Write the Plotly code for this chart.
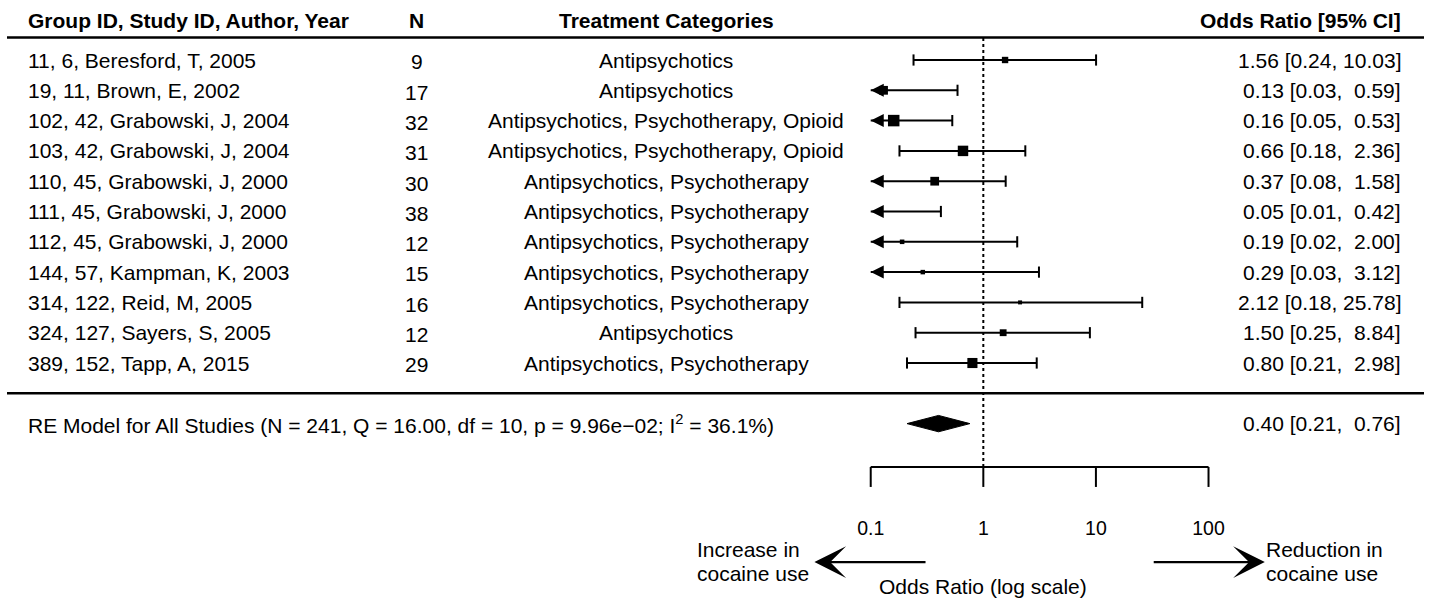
import math
import plotly.graph_objects as go

# ---------------- data ----------------
study = ["11, 6, Beresford, T, 2005", "19, 11, Brown, E, 2002", "102, 42, Grabowski, J, 2004",
         "103, 42, Grabowski, J, 2004", "110, 45, Grabowski, J, 2000", "111, 45, Grabowski, J, 2000",
         "112, 45, Grabowski, J, 2000", "144, 57, Kampman, K, 2003", "314, 122, Reid, M, 2005",
         "324, 127, Sayers, S, 2005", "389, 152, Tapp, A, 2015"]
n_obs = [9, 17, 32, 31, 30, 38, 12, 15, 16, 12, 29]
treatment = ["Antipsychotics", "Antipsychotics", "Antipsychotics, Psychotherapy, Opioid",
             "Antipsychotics, Psychotherapy, Opioid", "Antipsychotics, Psychotherapy",
             "Antipsychotics, Psychotherapy", "Antipsychotics, Psychotherapy",
             "Antipsychotics, Psychotherapy", "Antipsychotics, Psychotherapy",
             "Antipsychotics", "Antipsychotics, Psychotherapy"]
or_est = [1.56, 0.13, 0.16, 0.66, 0.37, 0.05, 0.19, 0.29, 2.12, 1.50, 0.80]
ci_low = [0.24, 0.03, 0.05, 0.18, 0.08, 0.01, 0.02, 0.03, 0.18, 0.25, 0.21]
ci_high = [10.03, 0.59, 0.53, 2.36, 1.58, 0.42, 2.00, 3.12, 25.78, 8.84, 2.98]
re_est, re_low, re_high = 0.40, 0.21, 0.76
re_label = "RE Model for All Studies (N = 241, Q = 16.00, df = 10, p = 9.96e\u221202; I<sup>2</sup> = 36.1%)"
headers = ["Group ID, Study ID, Author, Year", "N", "Treatment Categories", "Odds Ratio [95% CI]"]
tick_vals = [0.1, 1, 10, 100]
tick_text = ["0.1", "1", "10", "100"]
x_title = "Odds Ratio (log scale)"
left_note = ["Increase in", "cocaine use"]
right_note = ["Reduction in", "cocaine use"]
alim_low = 0.1

# ---------------- layout helpers ----------------
W, H = 1430, 603
FONT = "Liberation Sans, Arial, sans-serif"
FS = 21
rows = list(range(1, len(study) + 1))
re_row = len(study) + 2


def fmt_ci(v, l, h):
    return f"{v:.2f} [{l:.2f}, " + f"{h:5.2f}".replace(" ", "\u00a0") + "]"


def px(xp):
    return xp / W


fig = go.Figure()

# CI lines
lx, ly = [], []
for k, l, h in zip(rows, ci_low, ci_high):
    lx += [max(l, alim_low), h, None]
    ly += [k, k, None]
fig.add_trace(go.Scatter(x=lx, y=ly, mode="lines", line=dict(color="black", width=2),
                         hoverinfo="skip", showlegend=False))

# caps
cx, cy = [], []
for k, l, h in zip(rows, ci_low, ci_high):
    if l >= alim_low:
        cx.append(l); cy.append(k)
    cx.append(h); cy.append(k)
fig.add_trace(go.Scatter(x=cx, y=cy, mode="markers",
                         marker=dict(symbol="line-ns", size=8, opacity=1,
                                     line=dict(color="black", width=2)),
                         hoverinfo="skip", showlegend=False))

# arrowheads for clipped lower limits
ax_, ay_ = [], []
for k, l in zip(rows, ci_low):
    if l < alim_low:
        ax_.append(alim_low); ay_.append(k)
fig.add_trace(go.Scatter(x=ax_, y=ay_, mode="markers",
                         marker=dict(symbol="arrow-left", size=13, color="black", opacity=1,
                                     line=dict(width=0)),
                         hoverinfo="skip", showlegend=False))

# squares sized by random-effects weight
tau2 = 0.35
wts = []
for l, h in zip(ci_low, ci_high):
    se = (math.log(h) - math.log(l)) / 3.92
    wts.append(1 / (se ** 2 + tau2))
wmin, wmax = min(wts), max(wts)
sx, sy, ss = [], [], []
for k, v, w in zip(rows, or_est, wts):
    if v >= alim_low:
        sx.append(v); sy.append(k)
        ss.append(4 + 7.5 * (w - wmin) / (wmax - wmin))
fig.add_trace(go.Scatter(x=sx, y=sy, mode="markers",
                         marker=dict(symbol="square", size=ss, color="black", opacity=1,
                                     line=dict(width=0)),
                         hoverinfo="skip", showlegend=False))

# summary diamond
dh = 0.27
fig.add_trace(go.Scatter(x=[re_low, re_est, re_high, re_est, re_low],
                         y=[re_row, re_row - dh, re_row, re_row + dh, re_row],
                         mode="lines", fill="toself", fillcolor="black",
                         line=dict(color="black", width=1), hoverinfo="skip", showlegend=False))

# reference line at OR = 1
axis_row = 14.43
fig.add_trace(go.Scatter(x=[1, 1], y=[0.27, axis_row], mode="lines",
                         line=dict(color="black", width=2, dash="dot"),
                         hoverinfo="skip", showlegend=False))

# custom axis
tick_end = 15.09
axx = [tick_vals[0], tick_vals[-1], None]
axy = [axis_row, axis_row, None]
for t in tick_vals:
    axx += [t, t, None]
    axy += [axis_row, tick_end, None]
fig.add_trace(go.Scatter(x=axx, y=axy, mode="lines", line=dict(color="black", width=2),
                         hoverinfo="skip", showlegend=False))
fig.add_trace(go.Scatter(x=tick_vals, y=[16.5] * len(tick_vals), mode="text", text=tick_text,
                         textfont=dict(family=FONT, size=19.5, color="black"),
                         hoverinfo="skip", showlegend=False))

ann = []


def txt(x, y, s, anchor, bold=False, size=FS):
    ann.append(dict(x=x, y=y, xref="paper", yref="y", text=f"<b>{s}</b>" if bold else s,
                    showarrow=False, xanchor=anchor, yanchor="middle",
                    font=dict(family=FONT, size=size, color="black")))


col_label, col_n, col_trt, col_or = px(26), px(417), px(666), px(1403)
hdr_row = -0.32
txt(col_label, hdr_row, headers[0], "left", True)
txt(col_n, hdr_row, headers[1], "center", True)
txt(col_trt, hdr_row, headers[2], "center", True)
txt(col_or, hdr_row, headers[3], "right", True)
for k, s, nn, tr, v, l, h in zip(rows, study, n_obs, treatment, or_est, ci_low, ci_high):
    txt(col_label, k, s, "left")
    txt(col_n, k + 0.06, str(nn), "center")
    txt(col_trt, k, tr, "center")
    txt(col_or, k, fmt_ci(v, l, h), "right")
txt(col_label, re_row, re_label, "left")
txt(col_or, re_row, fmt_ci(re_est, re_low, re_high), "right")

# bottom annotations
txt(px(983), 18.38, x_title, "center")
txt(px(695), 17.14, left_note[0], "left")
txt(px(695), 17.93, left_note[1], "left")
txt(px(1264), 17.14, right_note[0], "left")
txt(px(1264), 17.93, right_note[1], "left")
arrow_row = 17.57
ann.append(dict(x=-1.5, y=arrow_row, ax=-0.5, ay=arrow_row, xref="x", yref="y", axref="x", ayref="y",
                text="", showarrow=True, arrowhead=3, arrowsize=2.4, arrowwidth=2.2, arrowcolor="black"))
ann.append(dict(x=2.5, y=arrow_row, ax=1.5, ay=arrow_row, xref="x", yref="y", axref="x", ayref="y",
                text="", showarrow=True, arrowhead=3, arrowsize=2.4, arrowwidth=2.2, arrowcolor="black"))

shapes = [
    dict(type="line", xref="paper", yref="y", x0=px(7), x1=px(1424), y0=0.26, y1=0.26,
         line=dict(color="black", width=2.5)),
    dict(type="line", xref="paper", yref="y", x0=px(7), x1=px(1424), y0=12.0, y1=12.0,
         line=dict(color="black", width=2.5)),
]

fig.update_layout(
    width=W, height=H, margin=dict(l=0, r=0, t=0, b=0),
    paper_bgcolor="white", plot_bgcolor="white",
    font=dict(family=FONT, size=FS, color="black"),
    xaxis=dict(type="log", range=[-8.733, 3.967], visible=False, fixedrange=True),
    yaxis=dict(range=[18.92, -0.98], visible=False, fixedrange=True),
    annotations=ann, shapes=shapes, showlegend=False,
)

fig.write_html("out.html")
